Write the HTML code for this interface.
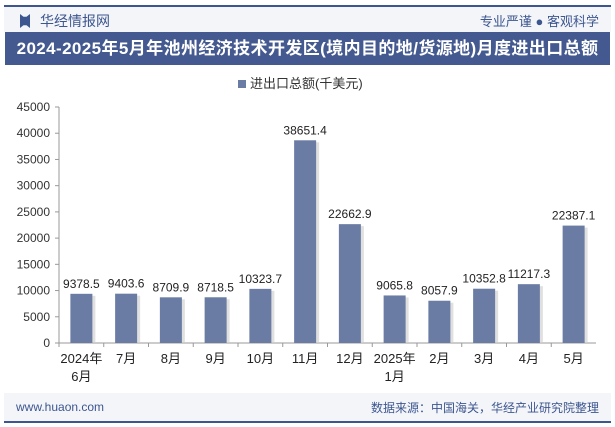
<!DOCTYPE html>
<html><head><meta charset="utf-8"><style>
body{margin:0;width:615px;height:427px;background:#fff;font-family:"Liberation Sans","Noto Sans CJK SC",sans-serif;overflow:hidden;position:relative}
.a{position:absolute}
</style></head><body>
<div class="a" style="left:4px;top:5px;width:607px;height:2px;background:#3d5690"></div>
<div class="a" style="left:4px;top:7px;width:607px;height:25px;background:#f3f5f9"></div>
<div class="a" style="left:20px;top:14px;width:10px;height:14px;background:#3d5690;clip-path:polygon(0 0,35% 20%,65% 20%,100% 0,100% 100%,65% 80%,35% 80%,0 100%)"></div>
<div class="a" style="left:40px;top:11px;font-size:14px;color:#3d5690">华经情报网</div>
<div class="a" style="right:16px;top:11px;font-size:13px;color:#3d5690">专业严谨 ● 客观科学</div>
<div class="a" style="left:5px;top:32px;width:605px;height:33px;background:#44598f;color:#fff;font-size:17px;letter-spacing:0.4px;font-weight:bold;line-height:33px;text-align:center;white-space:nowrap">2024-2025年5月年池州经济技术开发区(境内目的地/货源地)月度进出口总额</div>
<div class="a" style="left:238px;top:73px;font-size:13px;color:#333"><span style="display:inline-block;width:8px;height:8px;background:#6a7ca3;margin-right:4px"></span>进出口总额(千美元)</div>
<svg class="a" style="left:0;top:0" width="615" height="427" id="chart"></svg>
<div class="a" style="left:4px;top:393px;width:607px;height:28px;background:#f3f5f9"></div>
<div class="a" style="left:4px;top:421px;width:607px;height:2px;background:#3d5690"></div>
<div class="a" style="left:16px;top:400px;font-size:12px;color:#3d5690">www.huaon.com</div>
<div class="a" style="right:16px;top:399px;font-size:12px;color:#3d5690">数据来源：中国海关，华经产业研究院整理</div>
<script>
const categories=["2024年|6月","7月","8月","9月","10月","11月","12月","2025年|1月","2月","3月","4月","5月"];
const values=[9378.5,9403.6,8709.9,8718.5,10323.7,38651.4,22662.9,9065.8,8057.9,10352.8,11217.3,22387.1];
const yTicks=[0,5000,10000,15000,20000,25000,30000,35000,40000,45000];
const svg=document.getElementById('chart');
const NS='http://www.w3.org/2000/svg';
const x0=59,x1=596,y0=343,y1=107,yMax=45000;
const bw=(x1-x0)/categories.length;
const ys=v=>y0-(v/yMax)*(y0-y1);
const xc=i=>x0+bw*(i+0.5);
function mk(t,a){const e=document.createElementNS(NS,t);for(const k in a)e.setAttribute(k,a[k]);svg.appendChild(e);return e;}
yTicks.forEach(t=>{
 const l=mk('line',{x1:x0-4,x2:x0,y1:ys(t),y2:ys(t),stroke:'#999'});
 
 
 const tx=mk('text',{x:x0-9,y:ys(t)+4,'text-anchor':'end','font-size':12,fill:'#333'});
 tx.textContent=t;
 
 
});
const ax=mk('line',{x1:x0,x2:x0,y1:y1,y2:y0,stroke:'#999'});


const bx=mk('line',{x1:x0,x2:x1,y1:y0,y2:y0,stroke:'#999'});


categories.forEach((c,i)=>{
 const t=mk('line',{x1:x0+bw*i,x2:x0+bw*i,y1:y0,y2:y0+4,stroke:'#999'});
 
 
 const v=values[i];
 const sh=mk('rect',{x:xc(i)-11+3,y:ys(v)+2,width:22,height:y0-ys(v)-2,fill:'#ccc',opacity:0.6});
 
 
 const r=mk('rect',{x:xc(i)-11,y:ys(v),width:22,height:y0-ys(v),fill:'#6a7ca3'});
 
 
 const vl=mk('text',{x:xc(i),y:ys(v)-6,'text-anchor':'middle','font-size':12,fill:'#222'});
 vl.textContent=v.toFixed(1);
 
 
 c.split('|').forEach((p,j)=>{
  const lt=mk('text',{x:xc(i),y:y0+20+j*18,'text-anchor':'middle','font-size':13,fill:'#222'});
  lt.textContent=p;
  
  
 });
});
</script>
</body></html>
